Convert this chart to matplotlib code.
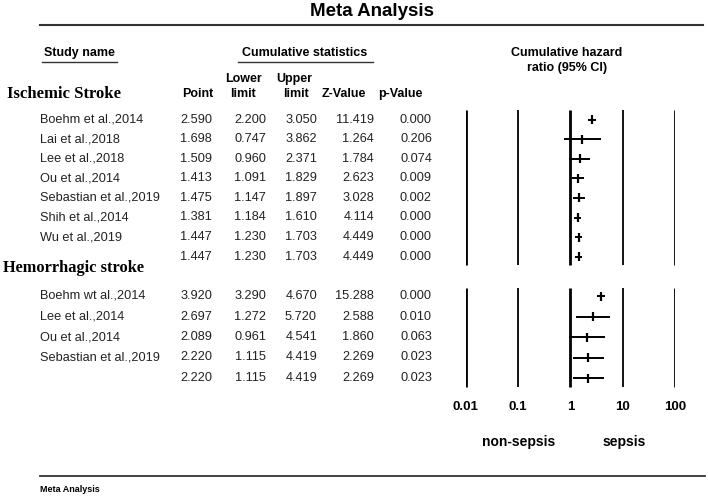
import matplotlib
matplotlib.use("Agg")
import matplotlib.pyplot as plt

# --- data ------------------------------------------------------------------
isch_names = ["Boehm et al.,2014", "Lai et al.,2018", "Lee et al.,2018", "Ou et al.,2014",
              "Sebastian et al.,2019", "Shih et al.,2014", "Wu et al.,2019", ""]
isch_point = [2.590, 1.698, 1.509, 1.413, 1.475, 1.381, 1.447, 1.447]
isch_lower = [2.200, 0.747, 0.960, 1.091, 1.147, 1.184, 1.230, 1.230]
isch_upper = [3.050, 3.862, 2.371, 1.829, 1.897, 1.610, 1.703, 1.703]
isch_z = [11.419, 1.264, 1.784, 2.623, 3.028, 4.114, 4.449, 4.449]
isch_p = [0.000, 0.206, 0.074, 0.009, 0.002, 0.000, 0.000, 0.000]

hem_names = ["Boehm wt al.,2014", "Lee et al.,2014", "Ou et al.,2014", "Sebastian et al.,2019", ""]
hem_point = [3.920, 2.697, 2.089, 2.220, 2.220]
hem_lower = [3.290, 1.272, 0.961, 1.115, 1.115]
hem_upper = [4.670, 5.720, 4.541, 4.419, 4.419]
hem_z = [15.288, 2.588, 1.860, 2.269, 2.269]
hem_p = [0.000, 0.010, 0.063, 0.023, 0.023]

scale_ticks = [0.01, 0.1, 1, 10, 100]
scale_labels = ["0.01", "0.1", "1", "10", "100"]

# --- figure: one pixel-coordinate layer for the table, one log axis for the plot
W, H = 708, 499
fig = plt.figure(figsize=(W / 100, H / 100), dpi=100)
plt.rcParams["font.family"] = ["Liberation Sans", "DejaVu Sans"]

ax = fig.add_axes([0, 0, 1, 1])
ax.set_xlim(0, W)
ax.set_ylim(H, 0)
ax.axis("off")

x0, x1 = 465.7, 675.0
fx = fig.add_axes([x0 / W, 0, (x1 - x0) / W, 1])
fx.set_xscale("log")
fx.set_xlim(0.01, 100)
fx.set_ylim(H, 0)
fx.axis("off")

txt = "#222222"
fs = 9.2

# title and rules
ax.text(372, 11, "Meta Analysis", ha="center", va="center", fontsize=13.5, fontweight="bold")
ax.plot([40, 703], [25, 25], color="#333333", lw=1.5)
ax.plot([40, 705], [476, 476], color="#333333", lw=1.3)
ax.text(40, 489, "Meta Analysis", ha="left", va="center", fontsize=6.5, fontweight="bold")

# column headers
ax.text(79, 53, "Study name", ha="center", va="center", fontsize=9, fontweight="bold")
ax.plot([42, 117], [61.5, 61.5], color="#333333", lw=1)
ax.text(305, 53, "Cumulative statistics", ha="center", va="center", fontsize=9, fontweight="bold")
ax.plot([238, 373], [61.5, 61.5], color="#333333", lw=1)
ax.text(567, 53, "Cumulative hazard", ha="center", va="center", fontsize=9, fontweight="bold")
ax.text(567, 68, "ratio (95% CI)", ha="center", va="center", fontsize=9, fontweight="bold")

ax.text(243, 79, "Lower", ha="center", va="center", fontsize=9, fontweight="bold")
ax.text(294, 79, "Upper", ha="center", va="center", fontsize=9, fontweight="bold")
for xc, lab in [(198, "Point"), (243, "limit"), (296, "limit"), (344, "Z-Value"), (400, "p-Value")]:
    ax.text(xc, 94, lab, ha="center", va="center", fontsize=9, fontweight="bold")

ax.text(7, 94, "Ischemic Stroke", ha="left", va="center", fontsize=12,
        fontweight="bold", family=["Liberation Serif", "DejaVu Serif"])
ax.text(3, 268, "Hemorrhagic stroke", ha="left", va="center", fontsize=11.8,
        fontweight="bold", family=["Liberation Serif", "DejaVu Serif"])

col_right = [212, 266, 317, 374, 432]


def draw_block(names, point, lower, upper, z, p, y_first, step, y_top, y_bot):
    # reference lines of the forest plot
    for t in scale_ticks:
        fx.plot([t, t], [y_top, y_bot], color="black",
                lw=2.0 if t in (0.01, 1, 100) else 1.3, solid_capstyle="butt")
    for i, name in enumerate(names):
        y = y_first + i * step
        ax.text(40, y, name, ha="left", va="center", fontsize=fs, color=txt)
        vals = [f"{point[i]:.3f}", f"{lower[i]:.3f}", f"{upper[i]:.3f}", f"{z[i]:.3f}", f"{p[i]:.3f}"]
        for xr, v in zip(col_right, vals):
            ax.text(xr, y, v, ha="right", va="center", fontsize=fs, color=txt)
        fx.plot([lower[i], upper[i]], [y, y], color="black", lw=1.4, solid_capstyle="butt")
        fx.plot([point[i], point[i]], [y - 4.5, y + 4.5], color="black", lw=1.6, solid_capstyle="butt")


draw_block(isch_names, isch_point, isch_lower, isch_upper, isch_z, isch_p,
           119.5, 19.6, 110, 265)
draw_block(hem_names, hem_point, hem_lower, hem_upper, hem_z, hem_p,
           296, 20.5, 288, 387)

for t, lab in zip(scale_ticks, scale_labels):
    fx.text(t, 407, lab, ha="center", va="center", fontsize=9.5, fontweight="bold")
ax.text(519, 442, "non-sepsis", ha="center", va="center", fontsize=10, fontweight="bold")
ax.text(624, 442, "sepsis", ha="center", va="center", fontsize=10, fontweight="bold")

fig.savefig("out.png", dpi=100)
